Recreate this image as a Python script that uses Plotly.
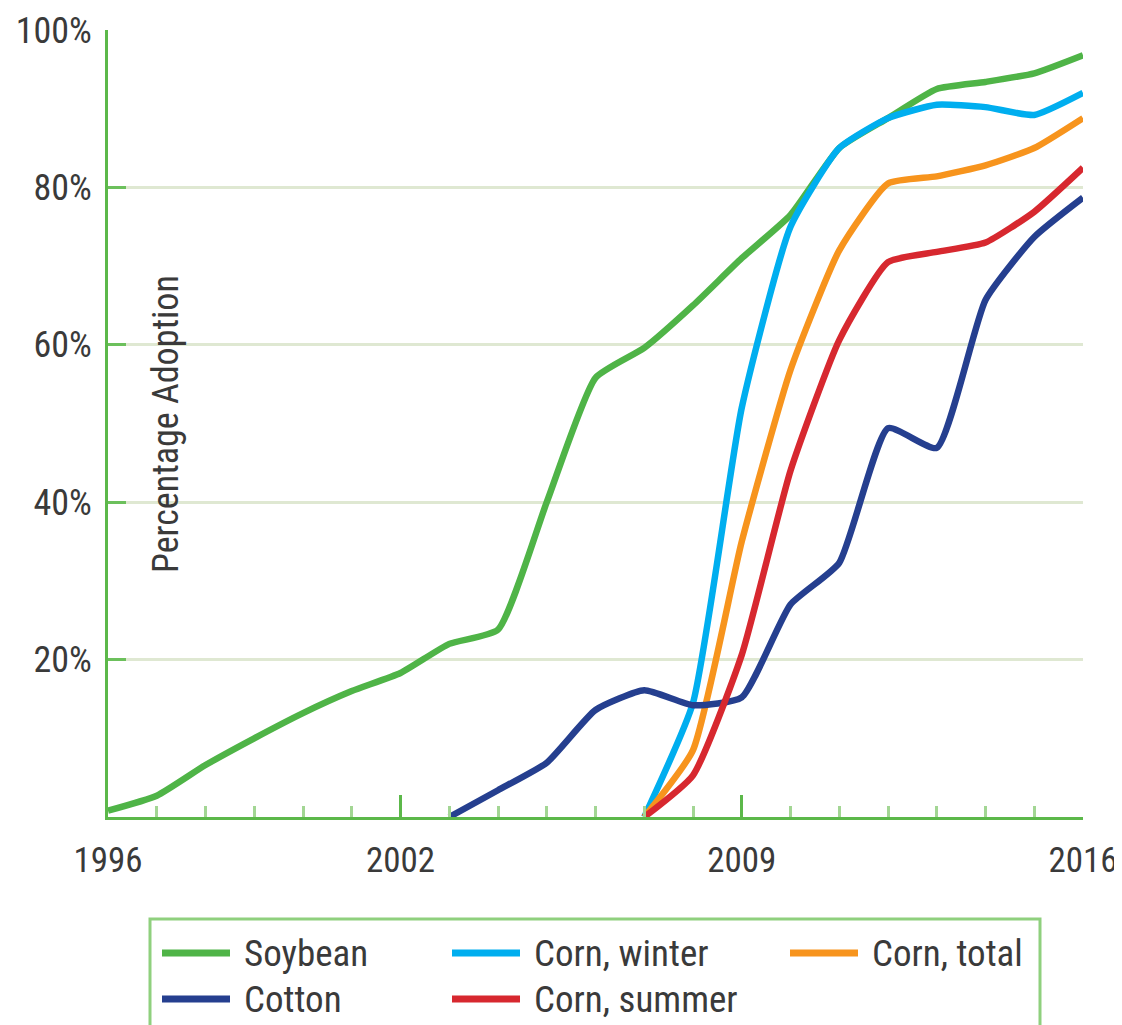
import plotly.graph_objects as go

years = list(range(1996, 2017))

soybean = [0.8, 2.7, 6.6, 10.0, 13.2, 16.0, 18.3, 22.0, 23.8, 40.0, 55.8,
           59.6, 65.0, 71.0, 76.5, 85.0, 88.8, 92.5, 93.4, 94.5, 96.8]
cotton_years = list(range(2003, 2017))
cotton = [0.0, 3.4, 6.9, 13.6, 16.1, 14.2, 15.2, 27.0, 32.3, 49.4, 46.9, 65.7, 73.7, 78.7]
corn_years = list(range(2007, 2017))
corn_winter = [0.0, 14.5, 52.0, 75.0, 85.0, 88.8, 90.5, 90.2, 89.2, 92.0]
corn_total = [0.0, 8.5, 35.0, 56.8, 72.0, 80.5, 81.4, 82.8, 85.0, 88.8]
corn_summer = [0.0, 5.3, 20.6, 44.0, 60.6, 70.5, 71.8, 73.0, 76.9, 82.5]

x_tick_vals = [1996, 2002, 2009, 2016]
x_tick_text = ["1996", "2002", "2009", "2016"]
y_tick_vals = [20, 40, 60, 80, 100]
y_tick_text = ["20%", "40%", "60%", "80%", "100%"]

FONT = "Liberation Sans Narrow, Roboto Condensed, Arial Narrow, sans-serif"
GREEN = "#5cb84a"
GRID = "#dfe8d2"
TXT = "#3a3a3a"

OFF = 8  # page body margin
W, H = 1122 - OFF, 1025 - OFF
ML, MR, MT, MB = 108 - OFF, 39, 30 - OFF, 208
PW, PH = W - ML - MR, H - MT - MB

def px(x):  # page pixel -> paper x
    return (x - OFF - ML) / PW

def py(y):  # page pixel -> paper y
    return (H - MB - (y - OFF)) / PH

fig = go.Figure()
series = [
    ("Soybean", years, soybean, "#4fb447"),
    ("Corn, winter", corn_years, corn_winter, "#00aeef"),
    ("Corn, total", corn_years, corn_total, "#f7941d"),
    ("Cotton", cotton_years, cotton, "#253f8f"),
    ("Corn, summer", corn_years, corn_summer, "#d7282f"),
]
for name, xs, ys, col in series:
    fig.add_trace(go.Scatter(
        x=xs, y=ys, name=name, mode="lines",
        line=dict(color=col, width=6.5, shape="spline", smoothing=0.5),
        cliponaxis=False, showlegend=False,
    ))

# manual legend (box, keys, labels)
legend_pos = {
    "Soybean": (162, 953),
    "Corn, winter": (452, 953),
    "Corn, total": (790, 953),
    "Cotton": (162, 999),
    "Corn, summer": (452, 999),
}
shapes = [dict(type="rect", xref="paper", yref="paper",
               x0=px(150), x1=px(1040), y0=py(1045), y1=py(919),
               line=dict(color="#8fd07e", width=3), fillcolor="rgba(0,0,0,0)",
               layer="above")]
annotations = []
for name, xs, ys, col in series:
    lx, ly = legend_pos[name]
    shapes.append(dict(type="line", xref="paper", yref="paper",
                       x0=px(lx), x1=px(lx + 68), y0=py(ly), y1=py(ly),
                       line=dict(color=col, width=7)))
    annotations.append(dict(text=name, xref="paper", yref="paper",
                            x=px(lx + 80), y=py(ly), xanchor="left", yanchor="middle",
                            showarrow=False,
                            font=dict(family=FONT, size=37, color=TXT)))

annotations.append(dict(
    text="Percentage Adoption", xref="paper", yref="paper",
    x=px(166), y=py(424), xanchor="center", yanchor="middle",
    textangle=-90, showarrow=False,
    font=dict(family=FONT, size=36, color=TXT),
))

fig.update_layout(
    width=W, height=H,
    margin=dict(l=ML, r=MR, t=MT, b=MB, autoexpand=False),
    paper_bgcolor="white", plot_bgcolor="white",
    font=dict(family=FONT, color=TXT, size=37),
    showlegend=False,
    shapes=shapes, annotations=annotations,
    xaxis=dict(
        range=[1996, 2016], showgrid=False, zeroline=False, automargin=False,
        showline=True, linecolor=GREEN, linewidth=3,
        tickmode="array", tickvals=x_tick_vals, ticktext=x_tick_text,
        ticks="inside", ticklen=22, tickwidth=3, tickcolor=GREEN,
        tickfont=dict(family=FONT, size=35, color=TXT),
        ticklabelstandoff=10,
        minor=dict(dtick=1, tick0=1996, ticks="inside", ticklen=11,
                   tickwidth=3, tickcolor="#a3d694", showgrid=False),
    ),
    yaxis=dict(
        range=[0, 100], showgrid=True, gridcolor=GRID, gridwidth=2.5,
        zeroline=False, automargin=False, showline=True, linecolor=GREEN, linewidth=3,
        tickmode="array", tickvals=y_tick_vals, ticktext=y_tick_text,
        ticks="inside", ticklen=18, tickwidth=3, tickcolor="#6cc05c",
        tickfont=dict(family=FONT, size=36, color=TXT),
        ticklabelstandoff=6,
    ),
)

fig.write_html("out.html")
